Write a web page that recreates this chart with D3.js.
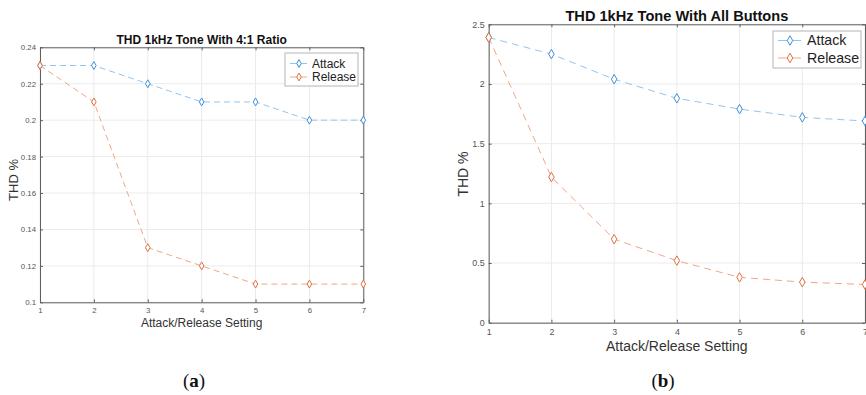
<!DOCTYPE html>
<html>
<head>
<meta charset="utf-8">
<script src="https://cdn.jsdelivr.net/npm/d3@7"></script>
<style>
  html, body { margin: 0; padding: 0; background: #fff; }
  svg { display: block; font-family: "Liberation Sans", Arial, sans-serif; }
</style>
</head>
<body>
<svg id="fig" width="866" height="395"></svg>
<script>
// Attack/release settings shared by both panels
const settings = [1, 2, 3, 4, 5, 6, 7];

// Panel (a): THD with 4:1 ratio
const ratioAttack  = [0.23, 0.23, 0.22, 0.21, 0.21, 0.20, 0.20];
const ratioRelease = [0.23, 0.21, 0.13, 0.12, 0.11, 0.11, 0.11];
const ratioYTicks  = [0.1, 0.12, 0.14, 0.16, 0.18, 0.2, 0.22, 0.24];

// Panel (b): THD with all buttons
const allAttack  = [2.39, 2.25, 2.04, 1.88, 1.79, 1.72, 1.69];
const allRelease = [2.39, 1.22, 0.70, 0.52, 0.38, 0.34, 0.32];
const allYTicks  = [0, 0.5, 1, 1.5, 2, 2.5];

const seriesNames = ["Attack", "Release"];

const COLORS = {
  line:   ["#93c4ee", "#f2a587"],
  marker: ["#3b8fd8", "#e0703f"],
  axis: "#5f5f5f",
  tick: "#555",
  grid: "#ebebeb"
};

const svg = d3.select("#fig");

function panel(cfg) {
  const g = svg.append("g");
  const x = d3.scaleLinear().domain([1, 7]).range([cfg.left, cfg.right]);
  const y = d3.scaleLinear().domain(cfg.yDomain).range([cfg.bottom, cfg.top]);

  // grid
  g.append("g").selectAll("line.vg").data(settings).join("line")
    .attr("x1", d => x(d)).attr("x2", d => x(d))
    .attr("y1", cfg.top).attr("y2", cfg.bottom)
    .attr("stroke", COLORS.grid).attr("stroke-width", 1);
  g.append("g").selectAll("line.hg").data(cfg.yTicks).join("line")
    .attr("x1", cfg.left).attr("x2", cfg.right)
    .attr("y1", d => y(d)).attr("y2", d => y(d))
    .attr("stroke", COLORS.grid).attr("stroke-width", 1);

  // axes (ticks inward, on all four sides)
  const tl = 3;
  const bottomAxis = d3.axisBottom(x).tickValues(settings).tickFormat(d3.format("d"))
    .tickSizeInner(-tl).tickSizeOuter(0).tickPadding(cfg.xPad);
  const leftAxis = d3.axisLeft(y).tickValues(cfg.yTicks).tickFormat(d => String(d))
    .tickSizeInner(-tl).tickSizeOuter(0).tickPadding(cfg.yPad);
  const topAxis = d3.axisTop(x).tickValues(settings).tickFormat("")
    .tickSizeInner(-tl).tickSizeOuter(0);
  const rightAxis = d3.axisRight(y).tickValues(cfg.yTicks).tickFormat("")
    .tickSizeInner(-tl).tickSizeOuter(0);

  const styleAxis = sel => {
    sel.select(".domain").attr("stroke", COLORS.axis);
    sel.selectAll(".tick line").attr("stroke", COLORS.axis);
    sel.selectAll(".tick text").attr("fill", COLORS.tick)
      .style("font-size", cfg.tickFont + "px")
      .style("font-family", '"Liberation Sans", Arial, sans-serif');
  };

  g.append("g").attr("transform", `translate(0,${cfg.bottom})`).call(bottomAxis).call(styleAxis);
  g.append("g").attr("transform", `translate(${cfg.left},0)`).call(leftAxis).call(styleAxis);
  g.append("g").attr("transform", `translate(0,${cfg.top})`).call(topAxis).call(styleAxis);
  g.append("g").attr("transform", `translate(${cfg.right},0)`).call(rightAxis).call(styleAxis);

  // series
  const series = [cfg.attack, cfg.release];
  const line = d3.line().x((d, i) => x(settings[i])).y(d => y(d));
  const diamond = d3.symbol().type(d3.symbolDiamond).size(cfg.markerSize);

  series.forEach((vals, k) => {
    g.append("path").datum(vals)
      .attr("d", line)
      .attr("fill", "none")
      .attr("stroke", COLORS.line[k])
      .attr("stroke-width", 1)
      .attr("stroke-dasharray", cfg.dash);
  });
  series.forEach((vals, k) => {
    g.append("g").selectAll("path").data(vals).join("path")
      .attr("d", diamond)
      .attr("transform", (d, i) => `translate(${x(settings[i])},${y(d)})`)
      .attr("fill", "#fff")
      .attr("stroke", COLORS.marker[k])
      .attr("stroke-width", 1);
  });

  // title and axis labels
  g.append("text")
    .attr("x", (cfg.left + cfg.right) / 2).attr("y", cfg.titleY)
    .attr("text-anchor", "middle")
    .style("font-size", cfg.titleFont + "px").style("font-weight", "bold")
    .attr("fill", "#111")
    .text(cfg.title);
  g.append("text")
    .attr("x", (cfg.left + cfg.right) / 2).attr("y", cfg.xLabelY)
    .attr("text-anchor", "middle")
    .style("font-size", cfg.labelFont + "px")
    .attr("fill", "#333")
    .text("Attack/Release Setting");
  g.append("text")
    .attr("transform", `translate(${cfg.yLabelX},${cfg.yLabelCY}) rotate(-90)`)
    .attr("text-anchor", "middle")
    .style("font-size", cfg.yLabelFont + "px")
    .attr("fill", "#333")
    .text("THD %");

  // legend
  const L = cfg.legend;
  const lg = g.append("g");
  lg.append("rect")
    .attr("x", L.x0).attr("y", L.y0)
    .attr("width", L.x1 - L.x0).attr("height", L.y1 - L.y0)
    .attr("fill", "#fff").attr("stroke", "#b5b5b5").attr("stroke-width", 1);
  seriesNames.forEach((name, k) => {
    const ry = L.rows[k];
    lg.append("line")
      .attr("x1", L.lineX0).attr("x2", L.lineX1)
      .attr("y1", ry).attr("y2", ry)
      .attr("stroke", COLORS.line[k]).attr("stroke-width", 1);
    lg.append("path")
      .attr("d", diamond)
      .attr("transform", `translate(${L.markX},${ry})`)
      .attr("fill", "#fff").attr("stroke", COLORS.marker[k]).attr("stroke-width", 1);
    lg.append("text")
      .attr("x", L.textX).attr("y", ry)
      .attr("dy", "0.35em")
      .style("font-size", L.font + "px")
      .attr("fill", "#222")
      .text(name);
  });

  // caption
  const cap = svg.append("text")
    .attr("x", cfg.capX).attr("y", 387)
    .attr("text-anchor", "middle")
    .style("font-family", '"Liberation Serif", "DejaVu Serif", serif')
    .style("font-size", "19px")
    .attr("fill", "#111");
  cap.append("tspan").text("(");
  cap.append("tspan").style("font-weight", "bold").text(cfg.caption);
  cap.append("tspan").text(")");
}

panel({
  left: 40, right: 363.3, top: 47.3, bottom: 302.3,
  yDomain: [0.1, 0.24], yTicks: ratioYTicks,
  attack: ratioAttack, release: ratioRelease,
  title: "THD 1kHz Tone With 4:1 Ratio", titleY: 43.5, titleFont: 12,
  xLabelY: 327, labelFont: 12,
  yLabelX: 18, yLabelCY: 180, yLabelFont: 13,
  tickFont: 7.8, xPad: 5, yPad: 4,
  markerSize: 18, dash: "6,4",
  legend: { x0: 285, x1: 358, y0: 53, y1: 86, rows: [63.5, 77], lineX0: 290, lineX1: 307, markX: 299, textX: 312, font: 12 },
  capX: 194, caption: "a"
});

panel({
  left: 488.7, right: 865, top: 24.3, bottom: 322.7,
  yDomain: [0, 2.5], yTicks: allYTicks,
  attack: allAttack, release: allRelease,
  title: "THD 1kHz Tone With All Buttons", titleY: 20.5, titleFont: 14.6,
  xLabelY: 350.5, labelFont: 14,
  yLabelX: 467.5, yLabelCY: 174, yLabelFont: 14,
  tickFont: 8.9, xPad: 6, yPad: 4,
  markerSize: 26, dash: "7,5",
  legend: { x0: 773, x1: 861, y0: 31, y1: 68, rows: [40.5, 58], lineX0: 778, lineX1: 801, markX: 790, textX: 807, font: 14.2 },
  capX: 663, caption: "b"
});
</script>
</body>
</html>
